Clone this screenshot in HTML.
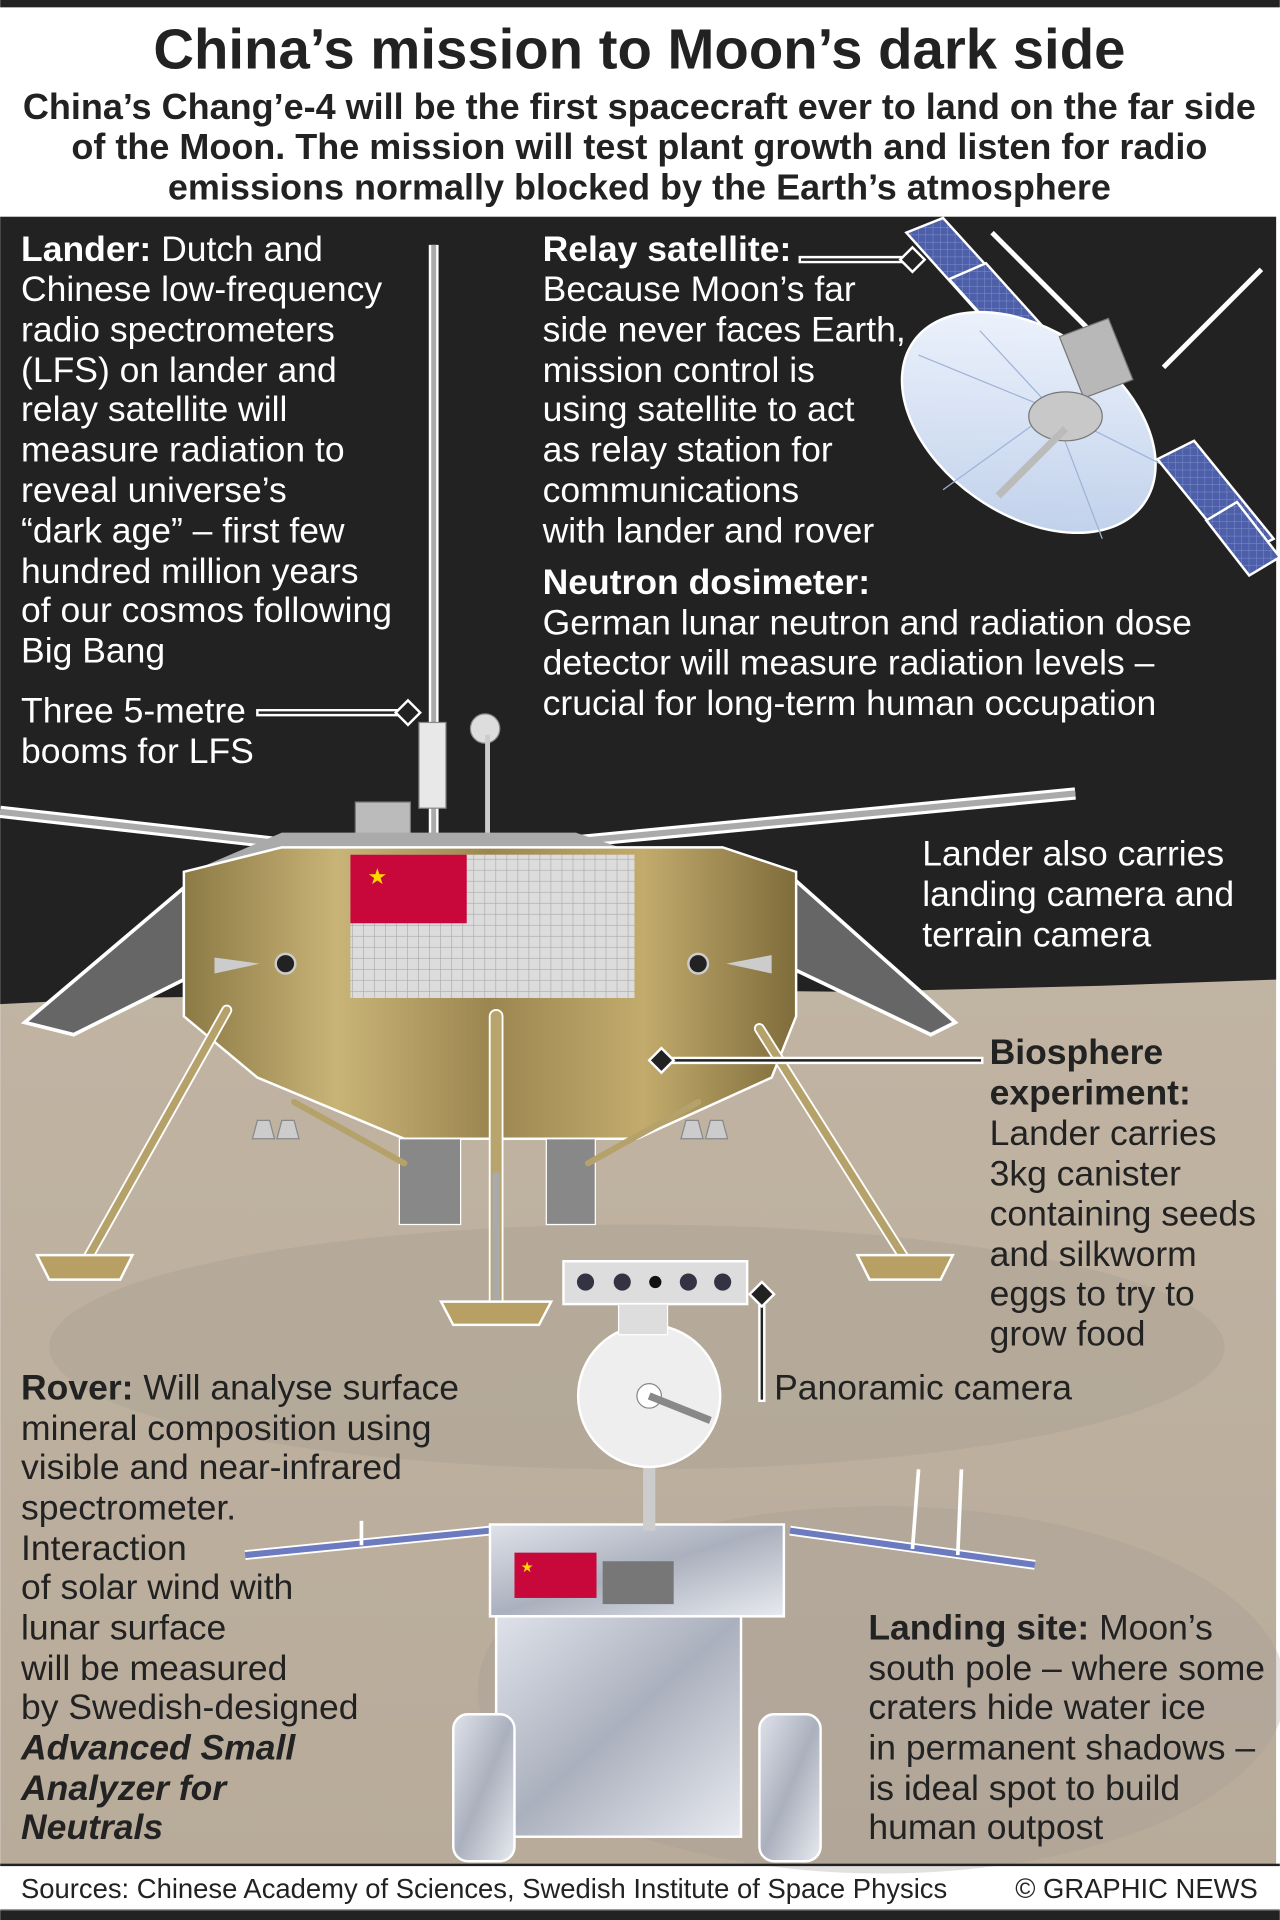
<!DOCTYPE html>
<html><head><meta charset="utf-8"><style>
html,body{margin:0;padding:0;background:#fff}
svg{display:block}
text{font-family:"Liberation Sans",Arial,sans-serif}
</style></head><body>
<svg width="1280" height="1920" viewBox="0 0 1045 1568" xmlns="http://www.w3.org/2000/svg">
<defs>
<linearGradient id="moon" x1="0" y1="0" x2="0" y2="1">
<stop offset="0" stop-color="#cbbfae"/><stop offset="0.5" stop-color="#c0b3a2"/><stop offset="1" stop-color="#b8ab9a"/></linearGradient>
<linearGradient id="gold" x1="0" y1="0" x2="1" y2="0">
<stop offset="0" stop-color="#8c7a45"/><stop offset="0.25" stop-color="#c9b477"/><stop offset="0.5" stop-color="#9c8650"/><stop offset="0.75" stop-color="#c2ab6c"/><stop offset="1" stop-color="#7e6c3b"/></linearGradient>
<linearGradient id="silver" x1="0" y1="0" x2="1" y2="1">
<stop offset="0" stop-color="#dfe2ea"/><stop offset="0.5" stop-color="#aab0bd"/><stop offset="1" stop-color="#e8eaf0"/></linearGradient>
<linearGradient id="dish" x1="0" y1="0" x2="1" y2="1">
<stop offset="0" stop-color="#f4f8ff"/><stop offset="1" stop-color="#b9cbe8"/></linearGradient>
<pattern id="grid" width="9" height="9" patternUnits="userSpaceOnUse"><rect width="9" height="9" fill="#dcdcdc"/><path d="M9 0V9H0" fill="none" stroke="#a8a8a8" stroke-width="1"/></pattern>
<pattern id="blue" width="6" height="6" patternUnits="userSpaceOnUse"><rect width="6" height="6" fill="#4d5fa8"/><path d="M6 0V6H0" fill="none" stroke="#7f8fcc" stroke-width="0.8"/></pattern>
</defs>
<rect width="1045" height="1568" fill="#fff"/>
<rect x="0" y="0" width="1045" height="6" fill="#222"/>
<rect x="0" y="177" width="1042" height="1346" fill="url(#moon)"/>
<ellipse cx="520" cy="1100" rx="480" ry="100" fill="#a39a8e" opacity="0.3"/>
<ellipse cx="720" cy="1380" rx="330" ry="150" fill="#a29c94" opacity="0.3"/>
<path d="M0 177H1042V800L900 805 700 810 500 808 300 812 100 815 0 820Z" fill="#222"/>
<text x="522" y="56" text-anchor="middle" font-size="46" font-weight="bold" fill="#222">China’s mission to Moon’s dark side</text>
<g font-size="29.4" font-weight="bold" fill="#222" text-anchor="middle">
<text x="522" y="97">China’s Chang’e-4 will be the first spacecraft ever to land on the far side</text>
<text x="522" y="130">of the Moon. The mission will test plant growth and listen for radio</text>
<text x="522" y="163">emissions normally blocked by the Earth’s atmosphere</text>
</g>
<g>
<polygon points="740,190 770,178 840,255 810,268" fill="url(#blue)" stroke="#fff" stroke-width="2"/>
<polygon points="775,228 805,215 850,265 820,278" fill="url(#blue)" stroke="#fff" stroke-width="2"/>
<line x1="810" y1="190" x2="900" y2="280" stroke="#fff" stroke-width="4"/>
<line x1="950" y1="300" x2="1030" y2="220" stroke="#fff" stroke-width="4"/>
<ellipse cx="840" cy="345" rx="115" ry="75" transform="rotate(35 840 345)" fill="url(#dish)" stroke="#fff" stroke-width="2"/>
<g stroke="#9fb3d8" stroke-width="1" fill="none">
<line x1="860" y1="335" x2="750" y2="290"/><line x1="860" y1="335" x2="770" y2="400"/><line x1="860" y1="335" x2="900" y2="440"/><line x1="860" y1="335" x2="950" y2="380"/><line x1="860" y1="335" x2="800" y2="270"/></g>
<polygon points="865,275 905,260 925,310 885,325" fill="#b8b8b8" stroke="#777"/>
<ellipse cx="870" cy="340" rx="30" ry="20" fill="#c8c8c8" stroke="#777"/>
<line x1="870" y1="350" x2="815" y2="405" stroke="#bbb" stroke-width="6"/>
<polygon points="945,375 975,360 1040,440 1010,455" fill="url(#blue)" stroke="#fff" stroke-width="2"/>
<polygon points="985,425 1010,410 1045,455 1020,470" fill="url(#blue)" stroke="#fff" stroke-width="2"/>
</g>
<line x1="354" y1="200" x2="354" y2="690" stroke="#fff" stroke-width="8"/>
<line x1="354" y1="200" x2="354" y2="690" stroke="#aaa" stroke-width="4"/>
<rect x="342" y="590" width="22" height="70" fill="#e8e8e8" stroke="#888"/>
<circle cx="396" cy="595" r="12" fill="#ddd" stroke="#888"/>
<line x1="398" y1="600" x2="398" y2="690" stroke="#ccc" stroke-width="4"/>
<line x1="0" y1="663" x2="240" y2="690" stroke="#fff" stroke-width="10"/>
<line x1="0" y1="663" x2="240" y2="690" stroke="#aaa" stroke-width="5"/>
<line x1="440" y1="690" x2="878" y2="648" stroke="#fff" stroke-width="10"/>
<line x1="440" y1="690" x2="878" y2="648" stroke="#aaa" stroke-width="5"/>
<rect x="290" y="655" width="45" height="45" fill="#bbb" stroke="#777"/>
<polygon points="230,680 470,680 530,700 160,710" fill="#aaa"/>
<polygon points="150,725 150,800 60,845 20,835" fill="#666" stroke="#fff" stroke-width="3"/>
<polygon points="645,715 780,835 760,845 645,790" fill="#666" stroke="#fff" stroke-width="3"/>
<polygon points="150,712 230,692 590,692 650,712 650,830 630,880 520,930 330,930 210,880 150,830" fill="url(#gold)" stroke="#fff" stroke-width="2"/>
<rect x="286" y="698" width="232" height="117" fill="url(#grid)"/>
<rect x="286" y="698" width="95" height="56" fill="#c8083a"/>
<text x="300" y="722" font-size="18" fill="#ffd800">★</text>
<circle cx="233" cy="787" r="8" fill="#222" stroke="#ccc" stroke-width="2"/>
<circle cx="570" cy="787" r="8" fill="#222" stroke="#ccc" stroke-width="2"/>
<polygon points="175,782 212,787 175,795" fill="#ccc"/>
<polygon points="630,780 593,787 630,795" fill="#ccc"/>
<rect x="326" y="930" width="50" height="70" fill="#888" stroke="#fff"/>
<rect x="446" y="930" width="40" height="70" fill="#888" stroke="#fff"/>
<g fill="#ccc" stroke="#888"><polygon points="210,915 220,915 224,930 206,930"/><polygon points="230,915 240,915 244,930 226,930"/><polygon points="560,915 570,915 574,930 556,930"/><polygon points="580,915 590,915 594,930 576,930"/></g>
<g stroke-linecap="round">
<line x1="185" y1="825" x2="70" y2="1030" stroke="#fff" stroke-width="9"/><line x1="185" y1="825" x2="70" y2="1030" stroke="#b5a26a" stroke-width="6"/>
<line x1="620" y1="840" x2="740" y2="1030" stroke="#fff" stroke-width="9"/><line x1="620" y1="840" x2="740" y2="1030" stroke="#b5a26a" stroke-width="6"/>
<line x1="405" y1="830" x2="405" y2="1075" stroke="#fff" stroke-width="12"/><line x1="405" y1="830" x2="405" y2="1075" stroke="#b8a56d" stroke-width="9"/>
<line x1="405" y1="960" x2="405" y2="1075" stroke="#aaa" stroke-width="6"/>
<line x1="240" y1="900" x2="330" y2="950" stroke="#b5a26a" stroke-width="5"/>
<line x1="570" y1="900" x2="480" y2="950" stroke="#b5a26a" stroke-width="5"/>
</g>
<g fill="#b8a064" stroke="#fff" stroke-width="2">
<path d="M30 1025 L108 1025 L98 1045 L40 1045Z"/>
<path d="M700 1025 L778 1025 L768 1045 L710 1045Z"/>
<path d="M360 1063 L450 1063 L440 1082 L370 1082Z"/>
</g>
<line x1="200" y1="1270" x2="400" y2="1250" stroke="#fff" stroke-width="8"/>
<line x1="200" y1="1270" x2="400" y2="1250" stroke="#6c7bc0" stroke-width="5"/>
<line x1="645" y1="1250" x2="845" y2="1278" stroke="#fff" stroke-width="8"/>
<line x1="645" y1="1250" x2="845" y2="1278" stroke="#6c7bc0" stroke-width="5"/>
<line x1="295" y1="1242" x2="295" y2="1262" stroke="#fff" stroke-width="3"/>
<line x1="750" y1="1200" x2="745" y2="1265" stroke="#fff" stroke-width="3"/>
<line x1="785" y1="1200" x2="782" y2="1270" stroke="#fff" stroke-width="3"/>
<rect x="400" y="1245" width="240" height="75" fill="url(#silver)" stroke="#fff" stroke-width="2"/>
<rect x="405" y="1320" width="200" height="180" fill="url(#silver)" stroke="#fff" stroke-width="2"/>
<rect x="420" y="1268" width="67" height="37" fill="#c8083a"/>
<text x="425" y="1284" font-size="12" fill="#ffd800">★</text>
<rect x="492" y="1275" width="58" height="35" fill="#777"/>
<g fill="url(#silver)" stroke="#fff" stroke-width="2">
<rect x="370" y="1400" width="50" height="120" rx="12"/>
<rect x="620" y="1400" width="50" height="120" rx="12"/>
</g>
<line x1="530" y1="1195" x2="530" y2="1250" stroke="#ccc" stroke-width="10"/>
<circle cx="530" cy="1140" r="58" fill="#eee" stroke="#fff" stroke-width="2"/>
<circle cx="530" cy="1140" r="10" fill="#fff" stroke="#888"/>
<line x1="530" y1="1140" x2="580" y2="1160" stroke="#888" stroke-width="6"/>
<rect x="460" y="1030" width="150" height="35" fill="#ddd" stroke="#fff" stroke-width="2"/>
<g fill="#334"><circle cx="478" cy="1047" r="7"/><circle cx="508" cy="1047" r="7"/><circle cx="535" cy="1047" r="5" fill="#111"/><circle cx="562" cy="1047" r="7"/><circle cx="590" cy="1047" r="7"/></g>
<rect x="505" y="1065" width="40" height="25" fill="#ddd" stroke="#fff"/>
<g stroke-linecap="square">
<line x1="655" y1="212" x2="745" y2="212" stroke="#fff" stroke-width="6"/><line x1="655" y1="212" x2="745" y2="212" stroke="#222" stroke-width="2"/>
<polygon points="745,202 755,212 745,222 735,212" fill="#222" stroke="#fff" stroke-width="2"/>
<line x1="212" y1="582" x2="333" y2="582" stroke="#fff" stroke-width="6"/><line x1="212" y1="582" x2="333" y2="582" stroke="#222" stroke-width="2"/>
<polygon points="333,572 343,582 333,592 323,582" fill="#222" stroke="#fff" stroke-width="2"/>
<line x1="540" y1="866" x2="800" y2="866" stroke="#fff" stroke-width="6"/><line x1="540" y1="866" x2="800" y2="866" stroke="#222" stroke-width="2"/>
<polygon points="540,856 550,866 540,876 530,866" fill="#222" stroke="#fff" stroke-width="2"/>
<line x1="622" y1="1057" x2="622" y2="1142" stroke="#fff" stroke-width="6"/><line x1="622" y1="1057" x2="622" y2="1142" stroke="#222" stroke-width="2"/>
<polygon points="622,1047 632,1057 622,1067 612,1057" fill="#222" stroke="#fff" stroke-width="2"/>
</g>
<g font-size="29" fill="#fff">
<text x="17" y="213"><tspan font-weight="bold">Lander:</tspan> Dutch and</text>
<text x="17" y="246">Chinese low-frequency</text>
<text x="17" y="279">radio spectrometers</text>
<text x="17" y="312">(LFS) on lander and</text>
<text x="17" y="344">relay satellite will</text>
<text x="17" y="377">measure radiation to</text>
<text x="17" y="410">reveal universe’s</text>
<text x="17" y="443">“dark age” – first few</text>
<text x="17" y="476">hundred million years</text>
<text x="17" y="508">of our cosmos following</text>
<text x="17" y="541">Big Bang</text>
<text x="17" y="590">Three 5-metre</text>
<text x="17" y="623">booms for LFS</text>
<text x="443" y="213" font-weight="bold">Relay satellite:</text>
<text x="443" y="246">Because Moon’s far</text>
<text x="443" y="279">side never faces Earth,</text>
<text x="443" y="312">mission control is</text>
<text x="443" y="344">using satellite to act</text>
<text x="443" y="377">as relay station for</text>
<text x="443" y="410">communications</text>
<text x="443" y="443">with lander and rover</text>
<text x="443" y="485" font-weight="bold">Neutron dosimeter:</text>
<text x="443" y="518">German lunar neutron and radiation dose</text>
<text x="443" y="551">detector will measure radiation levels –</text>
<text x="443" y="584">crucial for long-term human occupation</text>
<text x="753" y="707">Lander also carries</text>
<text x="753" y="740">landing camera and</text>
<text x="753" y="773">terrain camera</text>
</g>
<g font-size="29" fill="#222">
<text x="808" y="869" font-weight="bold">Biosphere</text>
<text x="808" y="902" font-weight="bold">experiment:</text>
<text x="808" y="935">Lander carries</text>
<text x="808" y="968">3kg canister</text>
<text x="808" y="1001">containing seeds</text>
<text x="808" y="1034">and silkworm</text>
<text x="808" y="1066">eggs to try to</text>
<text x="808" y="1099">grow food</text>
<text x="632" y="1143">Panoramic camera</text>
<text x="17" y="1143"><tspan font-weight="bold">Rover:</tspan> Will analyse surface</text>
<text x="17" y="1176">mineral composition using</text>
<text x="17" y="1208">visible and near-infrared</text>
<text x="17" y="1241">spectrometer.</text>
<text x="17" y="1274">Interaction</text>
<text x="17" y="1306">of solar wind with</text>
<text x="17" y="1339">lunar surface</text>
<text x="17" y="1372">will be measured</text>
<text x="17" y="1404">by Swedish-designed</text>
<text x="17" y="1437" font-weight="bold" font-style="italic">Advanced Small</text>
<text x="17" y="1470" font-weight="bold" font-style="italic">Analyzer for</text>
<text x="17" y="1502" font-weight="bold" font-style="italic">Neutrals</text>
<text x="709" y="1339"><tspan font-weight="bold">Landing site:</tspan> Moon’s</text>
<text x="709" y="1372">south pole – where some</text>
<text x="709" y="1404">craters hide water ice</text>
<text x="709" y="1437">in permanent shadows –</text>
<text x="709" y="1470">is ideal spot to build</text>
<text x="709" y="1502">human outpost</text>
</g>
<rect x="0" y="1522" width="1045" height="2" fill="#222"/>
<text x="17" y="1550" font-size="22.4" fill="#222">Sources: Chinese Academy of Sciences, Swedish Institute of Space Physics</text>
<text x="1027" y="1550" font-size="22.4" fill="#222" text-anchor="end">© GRAPHIC NEWS</text>
<rect x="0" y="1560" width="1045" height="8" fill="#222"/>
<rect x="0" y="1559" width="1045" height="1" fill="#999"/>
</svg>
</body></html>
